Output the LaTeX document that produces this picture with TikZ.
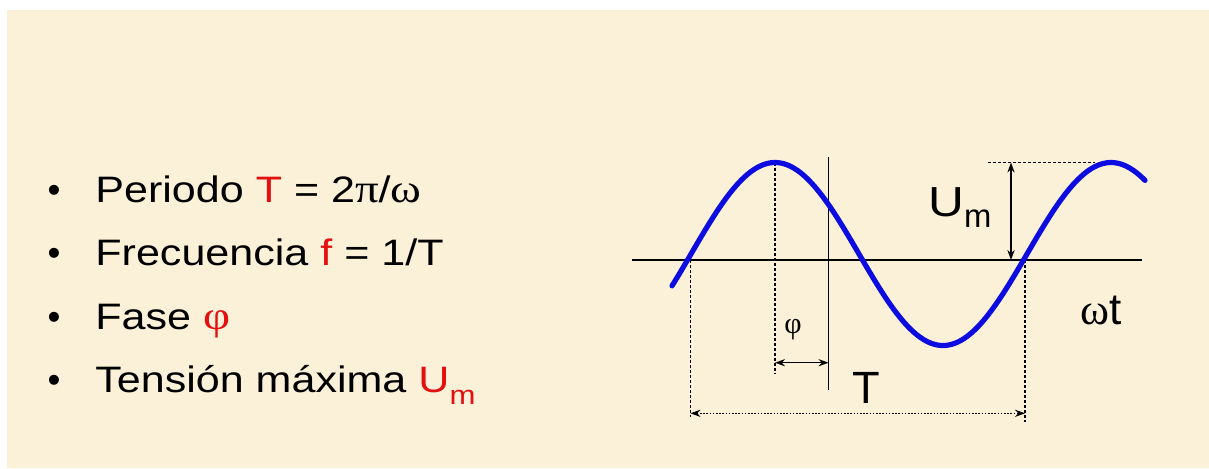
\documentclass[tikz,border=0pt]{standalone}
\usepackage{fontspec}
\usepackage{graphicx}
\setmainfont{Liberation Sans}
\newfontfamily\grk{Liberation Serif}
\usetikzlibrary{arrows.meta}
\definecolor{bg}{RGB}{251,241,217}
\definecolor{wave}{RGB}{12,12,225}
\definecolor{hl}{RGB}{228,16,16}
\newcommand\widetxt[1]{\scalebox{1.17}[1]{#1}}
\newcommand\gk[1]{{\grk\fontsize{20}{22}\selectfont #1}}
\begin{document}
\begin{tikzpicture}[x=0.5pt,y=-0.5pt,
  listtext/.style={anchor=base west, inner sep=0pt, font=\fontsize{18.4}{22}\selectfont},
  bul/.style={anchor=base, inner sep=0pt, font=\fontsize{18.4}{22}\selectfont},
  lab/.style={anchor=base west, inner sep=0pt, font=\fontsize{22}{26}\selectfont},
  axisline/.style={line width=0.6pt},
  guide/.style={line width=0.55pt, dash pattern=on 1.5pt off 1pt},
  dimarrow/.style={line width=0.55pt, {Stealth[length=5pt,width=3.6pt]}-{Stealth[length=5pt,width=3.6pt]}},
  wavestyle/.style={wave, line width=2.6pt, line cap=round},
]
\useasboundingbox (0,0) rectangle (1209,468);
\fill[white] (0,0) rectangle (1209,468);
\fill[bg] (7,10) rectangle (1209,468);

% bullet list
\node[bul] (b1) at (54,202) {•};
\node[bul] (b2) at (54,265.5) {•};
\node[bul] (b3) at (54,329) {•};
\node[bul] (b4) at (54,392.5) {•};
\node[listtext] (l1) at (95,202) {\widetxt{Periodo \textcolor{hl}{T} = 2\gk{π}/\gk{ω}}};
\node[listtext] (l2) at (95,265.5) {\widetxt{Frecuencia \textcolor{hl}{f} = 1/T}};
\node[listtext] (l3) at (95,329) {\widetxt{Fase \textcolor{hl}{\gk{φ}}}};
\node[listtext] (l4) at (95,392.5) {\widetxt{Tensión máxima \textcolor{hl}{U\raisebox{-6pt}{\fontsize{13.3}{15}\selectfont m}}}};

% coordinates
\coordinate (axL) at (632,260);
\coordinate (axR) at (1142,260);
\coordinate (z1) at (690.5,260);
\coordinate (z1b) at (690.5,417);
\coordinate (pk) at (775,162.5);
\coordinate (pkb) at (775,374);
\coordinate (vT) at (828.5,157);
\coordinate (vB) at (828.5,390);
\coordinate (z2) at (1025,260);
\coordinate (z2b) at (1025,422);
\coordinate (umL) at (988,162.5);
\coordinate (umR) at (1095,162.5);
\coordinate (umT) at (1011,162.5);
\coordinate (umB) at (1011,260);
\coordinate (phL) at (775,362.7);
\coordinate (phR) at (828.5,362.7);
\coordinate (tL) at (690.5,413.3);
\coordinate (tR) at (1025,413.3);

% axes and guides
\draw[axisline] (axL) -- (axR);
\draw[axisline] (vT) -- (vB);
\draw[guide] (z1) -- (z1b);
\draw[guide] (pk) -- (pkb);
\draw[guide] (z2) -- (z2b);
\draw[guide] (umL) -- (umR);

% dimension arrows
\draw[dimarrow] (umT) -- (umB);
\draw[dimarrow] (phL) -- (phR);
\draw[dimarrow, dash pattern=on 0.8pt off 0.8pt] (tL) -- (tR);

% sine wave
\draw[wavestyle] plot[domain=672:1145, samples=200, smooth] (\x, {254 - 91.5*sin((\x-691)*1.0714286)});

% labels
\node[lab, font=\fontsize{21}{25}\selectfont] (um) at (928,216.7) {\scalebox{1.18}[1]{U}\raisebox{-5.3pt}{\fontsize{16.4}{18}\selectfont m}};
\node[lab, font=\fontsize{22.6}{26}\selectfont] (T) at (852,403.3) {T};
\node[lab] (wt) at (1080,324.3) {{\grk ω}t};
\node[anchor=base, inner sep=0pt, font=\fontsize{15}{18}\selectfont\grk] (phi) at (793,333) {φ};
\end{tikzpicture}
\end{document}
